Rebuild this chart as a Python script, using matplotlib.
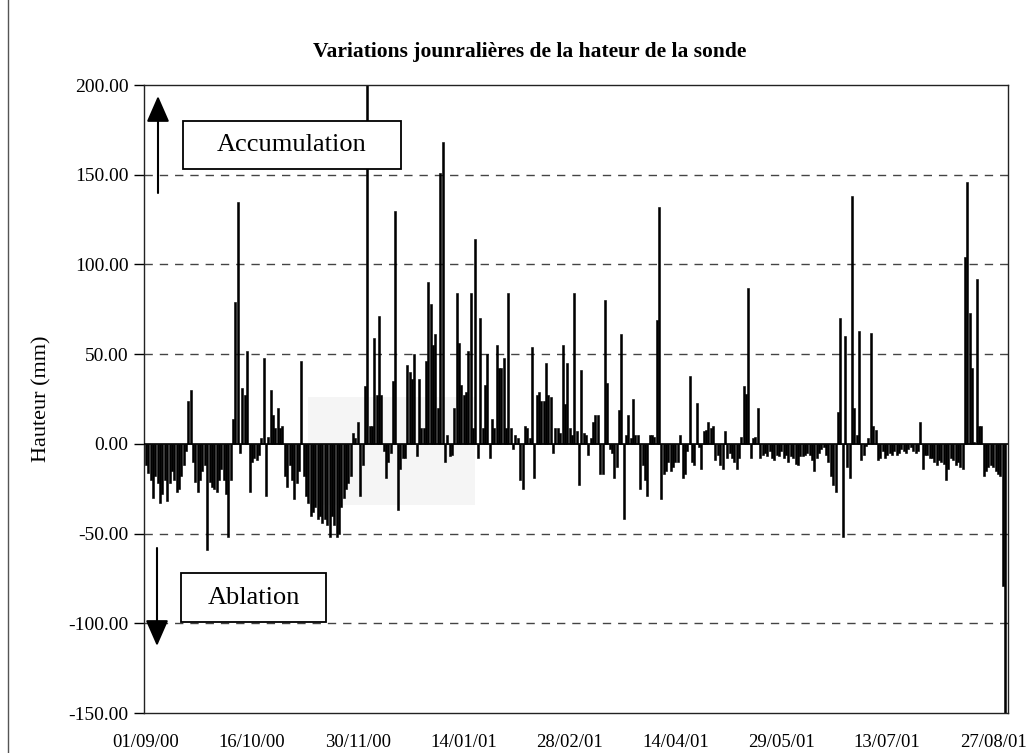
import numpy as np
import matplotlib
matplotlib.use("Agg")
import matplotlib.pyplot as plt
from matplotlib.patches import Rectangle
from matplotlib.lines import Line2D

# Daily change of the probe height (mm), one list per month, starting 01/09/2000
sep00 = [-12, -16, -20, -30, -18, -22, -33, -28, -20, -32, -22, -15, -20, -27, -25,
         -18, -12, -4, 24, 30, -10, -21, -27, -20, -15, -12, -59, -21, -24, -25]
oct00 = [-27, -20, -14, -20, -28, -52, -20, 14, 79, 135, -5, 31, 27, 52, -27, -10,
         -8, -9, -6, 3, 48, -29, 4, 30, 16, 9, 20, 9, 10, -18, -24]
nov00 = [-12, -20, -31, -22, -15, 46, -18, -29, -33, -40, -38, -35, -42, -40, -44,
         -42, -45, -52, -40, -45, -52, -50, -35, -30, -25, -22, -18, 6, 3, 12]
dec00 = [-29, -12, 32, 200, 10, 10, 59, 27, 71, 27, -4, -19, -10, -5, 35, 130,
         -37, -14, -8, -8, 44, 40, 36, 50, -7, 36, 9, 9, 46, 90, 78]
jan01 = [55, 61, 20, 151, 168, -10, 5, -7, -6, 20, 84, 56, 33, 27, 29, 52, 84, 9,
         114, -8, 70, 9, 33, 50, -8, 14, 9, 55, 42, 42, 48]
feb01 = [9, 84, 9, -3, 5, 3, -20, -25, 10, 9, 3, 54, -19, 27, 29, 24, 24, 45, 27,
         26, -5, 9, 9, 6, 55, 22, 45, 9]
mar01 = [5, 84, 7, -23, 41, 6, 5, -6, 3, 12, 16, 16, -17, -17, 80, 34, -3, -5, -19,
         -13, 19, 61, -42, 5, 16, 3, 25, 5, 5, -25, -12]
apr01 = [-20, -29, 5, 5, 4, 69, 132, -31, -17, -15, -10, -15, -13, -10, -10, 5, -19,
         -17, -4, 38, -10, -12, 23, -2, -14, 7, 8, 12, 9, 10]
may01 = [-9, -6, -12, -14, 7, -8, -5, -8, -10, -14, -8, 4, 32, 28, 87, -8, 3, 4, 20,
         -8, -6, -5, -7, -4, -8, -9, -6, -7, -4, -8, -6]
jun01 = [-10, -7, -8, -11, -12, -7, -7, -6, -5, -6, -9, -15, -8, -5, -3, -2, -6, -10,
         -18, -23, -27, 18, 70, -52, 60, -13, -19, 138, 20, 5]
jul01 = [63, -9, -6, -1, 3, 62, 10, 8, -9, -8, -4, -8, -6, -5, -6, -4, -6, -5, -3,
         -4, -5, -3, -2, -4, -5, -4, 12, -14, -6, -6, -8]
aug01 = [-8, -10, -12, -9, -10, -11, -20, -14, -8, -9, -12, -10, -13, -14, 104, 146,
         73, 42, 1, 92, 10, 10, -18, -15, -13, -12, -13, -15, -17, -18, -79]
sep01 = [-150]

tick_days = [0, 45, 90, 135, 180, 225, 270, 315, 360]
tick_labels = ["01/09/00", "16/10/00", "30/11/00", "14/01/01", "28/02/01",
               "14/04/01", "29/05/01", "13/07/01", "27/08/01"]
y_ticks = [-150, -100, -50, 0, 50, 100, 150, 200]

values = np.array(sep00 + oct00 + nov00 + dec00 + jan01 + feb01 + mar01 + apr01
                  + may01 + jun01 + jul01 + aug01 + sep01, dtype=float)
days = np.arange(len(values))

W, H = 1034, 753
plt.rcParams["font.family"] = ["Liberation Serif", "DejaVu Serif"]

fig = plt.figure(figsize=(W / 100, H / 100), dpi=100, facecolor="white")


def fx(px):
    return px / W


def fy(py):
    return 1 - py / H


ax = fig.add_axes([fx(144), fy(713), fx(1008) - fx(144), fy(85) - fy(713)])
ax.set_facecolor("none")

# faint grey tone of the scanned sheet
ax.add_patch(Rectangle((fx(308), fy(505)), fx(475) - fx(308), fy(397) - fy(505),
                       transform=fig.transFigure, facecolor="#f5f5f5",
                       edgecolor="none", zorder=0.5))

ax.bar(days, values, width=0.85, color="black", edgecolor="black",
       linewidth=0.4, zorder=2)
ax.axhline(0, color="black", lw=1.2, zorder=3)

ax.set_xlim(-0.85, 366.3)
ax.set_ylim(-150, 200)
ax.set_yticks(y_ticks)
ax.set_yticklabels([f"{v:.2f}" for v in y_ticks], fontsize=14)
ax.set_xticks(tick_days)
ax.set_xticklabels(tick_labels, fontsize=13.5)
ax.tick_params(axis="x", length=0, pad=15)
ax.tick_params(axis="y", direction="out", length=7, width=1, pad=4)

for v in [150, 100, 50, -50, -100]:
    ax.axhline(v, color="#444444", lw=1.0, linestyle=(0, (6, 5)), zorder=1)

for s in ax.spines.values():
    s.set_color("#222222")
    s.set_linewidth(1.0)

ax.set_ylabel("Hauteur (mm)", fontsize=16, labelpad=12)
fig.text(fx(530), fy(52), "Variations jounralières de la hateur de la sonde",
         ha="center", va="center", fontsize=15.5, fontweight="bold")

# labelled boxes
for (x0, y0, x1, y1, label) in [(183, 121, 401, 169, "Accumulation"),
                                 (181, 573, 326, 622, "Ablation")]:
    fig.add_artist(Rectangle((fx(x0), fy(y1)), fx(x1) - fx(x0), fy(y0) - fy(y1),
                             transform=fig.transFigure, facecolor="white",
                             edgecolor="black", lw=1.3, zorder=5))
    fig.text(fx((x0 + x1) / 2), fy((y0 + y1) / 2), label, ha="center",
             va="center", fontsize=19, zorder=6)

# direction arrows
arrow_style = dict(arrowstyle="-|>,head_length=0.8,head_width=0.35",
                   mutation_scale=20, lw=1.5, color="black", shrinkA=0, shrinkB=0)
ax.annotate("", xy=(158, H - 96), xytext=(158, H - 193),
            xycoords="figure pixels", textcoords="figure pixels",
            arrowprops=arrow_style, zorder=6)
ax.annotate("", xy=(157, H - 646), xytext=(157, H - 548),
            xycoords="figure pixels", textcoords="figure pixels",
            arrowprops=arrow_style, zorder=6)

# outer frame edge of the sheet
fig.add_artist(Line2D([fx(8), fx(8)], [0, 1], transform=fig.transFigure,
                      color="#555555", lw=1.0))

fig.savefig("out.png", dpi=100)
